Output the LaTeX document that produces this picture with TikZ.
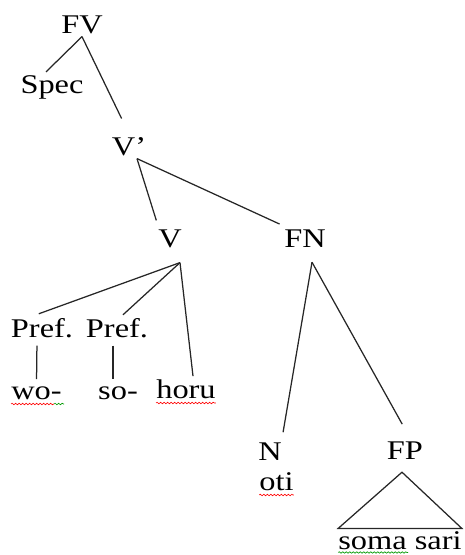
\documentclass[tikz,border=0pt]{standalone}
\usepackage{fontspec}
\setmainfont{Liberation Serif}[FakeStretch=1.2]
\usepackage{tikz}
\usetikzlibrary{calc, decorations.pathmorphing}

\tikzset{
    cat/.style={anchor=base, inner xsep=0pt, inner ysep=3pt, font=\fontsize{27}{30}\selectfont},
    branch/.style={line width=1.25pt, black!85},
    squiggle/.style={decorate, decoration={snake, amplitude=0.8pt, segment length=3.5pt}, line width=0.6pt}
}

\begin{document}
\begin{tikzpicture}[x=1pt, y=1pt]
    \useasboundingbox (0,0) rectangle (464,-555);

    \node (FV) [cat] at (82,-33) {FV};
    \node (Spec) [cat] at (52,-93) {Spec};
    \node (Vbar) [cat] at (129,-155) {V’};
    \node (V) [cat] at (170,-247) {V};
    \node (FN) [cat] at (305,-247) {FN};
    \node (PrefA) [cat] at (42,-337) {Pref.};
    \node (PrefB) [cat] at (117,-337) {Pref.};
    \node (wo) [cat] at (36.5,-399) {wo-};
    \node (so) [cat] at (118,-399) {so-};
    \node (horu) [cat] at (186,-398) {horu};
    \node (N) [cat] at (270,-460) {N};
    \node (oti) [cat] at (276.5,-490) {oti};
    \node (FP) [cat] at (405,-459) {FP};
    \node (soma) [cat] at (400,-549.5) {soma sari};

    \draw [branch] (FV.south) -- ([xshift=-6pt]Spec.north);
    \draw [branch, shorten >=17pt] (FV.south) -- (Vbar.north);

    \draw [branch, shorten >=6pt] ([xshift=8pt]Vbar.south) -- (V.north west);
    \draw [branch, shorten >=5pt] ([xshift=8pt]Vbar.south) -- (FN.north west);

    \draw [branch, shorten >=3pt] ([shift={(10pt,-12pt)}]V.south) -- ([xshift=-6pt]PrefA.north);
    \draw [branch] ([shift={(10pt,-12pt)}]V.south) -- ([xshift=6pt]PrefB.north);
    \draw [branch] ([shift={(10pt,-12pt)}]V.south) -- ([xshift=7pt]horu.north);

    \draw [branch, shorten <=5pt, shorten >=4pt] ([xshift=-5pt]PrefA.south) -- (wo.north);
    \draw [branch, shorten <=5pt, shorten >=4pt] ([xshift=-4pt]PrefB.south) -- ([xshift=-5pt]so.north);

    \draw [branch, shorten >=7pt] ([shift={(7pt,-12pt)}]FN.south) -- (N.north east);
    \draw [branch, shorten >=16pt] ([shift={(7pt,-12pt)}]FN.south) -- ([xshift=5pt]FP.north);

    \draw [branch] ([shift={(-3pt,-10pt)}]FP.south) -- (soma.north west) -- (soma.north east) -- cycle;

    \draw [squiggle, red] ([yshift=-5pt]wo.base west) -- ++(43pt,0);
    \draw [squiggle, green!60!black] ([shift={(43pt,-5pt)}]wo.base west) -- ++(10pt,0);
    \draw [squiggle, red] ([yshift=-5pt]horu.base west) -- ([yshift=-5pt]horu.base east);
    \draw [squiggle, red] ([yshift=-5pt]oti.base west) -- ([yshift=-5pt]oti.base east);
    \draw [squiggle, green!60!black] ([yshift=-3pt]soma.base west) -- ++(70pt,0);
\end{tikzpicture}
\end{document}
